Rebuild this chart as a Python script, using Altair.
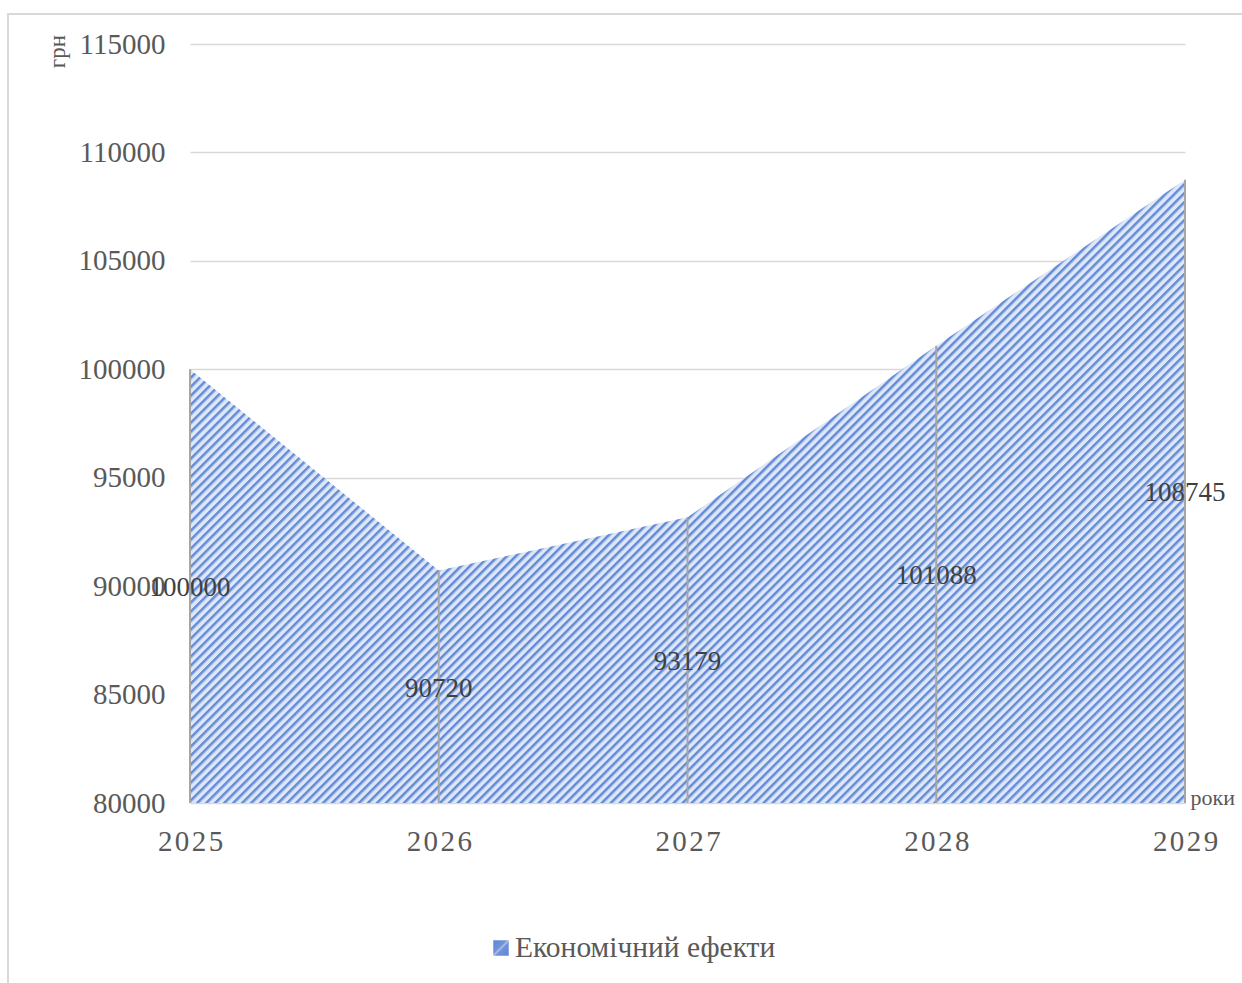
import altair as alt
import pandas as pd

# ---- data ----
years = ["2025", "2026", "2027", "2028", "2029"]
values = [100000, 90720, 93179, 101088, 108745]
y_ticks = [80000, 85000, 90000, 95000, 100000, 105000, 110000, 115000]
series_name = "Економічний ефекти"
y_unit = "грн"
x_unit = "роки"
y_min, y_max = 80000, 115000

df = pd.DataFrame({"year": years, "value": values})
df["base"] = y_min
df["mid"] = (df["value"] + df["base"]) / 2

FONT = "Liberation Serif"
DARK = "#628ad6"
LIGHT = "#dee7f7"


def stripe_stops(n, dark_w=0.15):
    st = []
    for i in range(n):
        o = i / n
        st += [
            {"offset": o, "color": DARK},
            {"offset": o + dark_w / n, "color": DARK},
            {"offset": o + 0.5 / n, "color": LIGHT},
            {"offset": o + 0.85 / n, "color": LIGHT},
        ]
    st.append({"offset": 1.0, "color": DARK})
    return st


W, H = 995, 759
# area bounding box ratio (height/width) -> 45 degree stripes
r = 623 / 995
a = (1 + r) / (1 + r * r)
area_grad = {"gradient": "linear", "stops": stripe_stops(180),
             "x1": 0, "y1": 0, "x2": a, "y2": a * r}
legend_grad = {"gradient": "linear",
               "stops": [{"offset": 0, "color": "#5f87d5"},
                         {"offset": 0.42, "color": "#6f93da"},
                         {"offset": 0.5, "color": "#a9bfe9"},
                         {"offset": 0.58, "color": "#6f93da"},
                         {"offset": 1, "color": "#5f87d5"}],
               "x1": 0, "y1": 0, "x2": 1, "y2": 1}

xenc = alt.X("year:O", scale=alt.Scale(type="point", padding=0),
             axis=alt.Axis(title=x_unit, labelAngle=0, ticks=False, domain=False,
                           grid=False, labelFont=FONT, labelFontSize=29,
                           labelColor="#595959", labelPadding=38,
                           labelBaseline="middle",
                           labelExpr="join(split(datum.label, ''), '\u200a')",
                           titleX=1000, titleY=-6, titleAlign="left",
                           titleBaseline="middle", titleFont=FONT,
                           titleFontSize=22, titleFontWeight="normal",
                           titleColor="#595959"))
yscale = alt.Scale(domain=[y_min, y_max], nice=False, zero=False)
yenc = alt.Y("value:Q", scale=yscale,
             axis=alt.Axis(values=y_ticks, format="d", ticks=False, domain=False,
                           grid=True, gridColor="#d9d9d9", gridWidth=1.5,
                           labelFont=FONT, labelFontSize=29, labelColor="#595959",
                           labelPadding=25, title=y_unit, titleAngle=270,
                           titleX=-133, titleY=7, titleAlign="center",
                           titleBaseline="middle", titleFont=FONT,
                           titleFontSize=23, titleFontWeight="normal",
                           titleColor="#595959"))

base = alt.Chart(df)

area = base.mark_area(color=area_grad).encode(x=xenc, y=yenc, y2="base:Q")

rules = base.mark_rule(color="#a6a6a6", strokeWidth=2).encode(
    x="year:O", y=alt.Y("value:Q", scale=yscale), y2="base:Q")

labels = base.mark_text(font=FONT, fontSize=27, color="#404040", dy=2).encode(
    x="year:O", y=alt.Y("mid:Q", scale=yscale), text=alt.Text("value:Q", format="d"))

one = alt.Chart(pd.DataFrame({"k": [0]}))
border = one.mark_rect(fill="transparent", stroke="#d9d9d9", strokeWidth=2).encode(
    x=alt.value(-182), x2=alt.value(1200), y=alt.value(-30), y2=alt.value(1100))
leg_sym = one.mark_square(size=240, color=legend_grad, opacity=1).encode(
    x=alt.value(311), y=alt.value(904))
leg_txt = one.mark_text(font=FONT, fontSize=29.5, color="#595959", align="left",
                        baseline="middle").encode(
    x=alt.value(325), y=alt.value(904), text=alt.value(series_name))

chart = alt.layer(border, area, rules, labels, leg_sym, leg_txt).properties(
    width=W, height=H,
    autosize=alt.AutoSizeParams(type="none"),
    padding={"left": 190, "top": 44, "right": 57, "bottom": 180},
    background="white",
).configure_view(stroke=None)

chart.save("out.html", embed_options={"renderer": "svg", "actions": False})
